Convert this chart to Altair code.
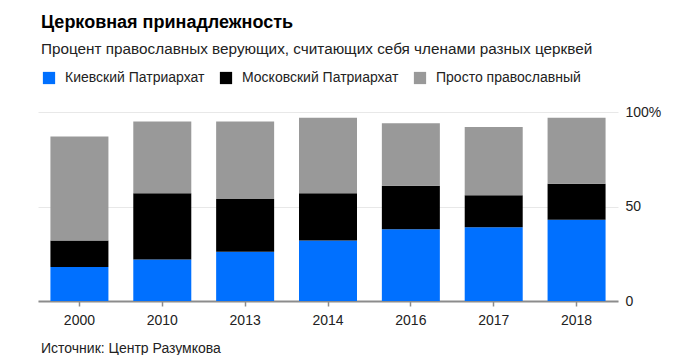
import altair as alt
import pandas as pd

years = ["2000", "2010", "2013", "2014", "2016", "2017", "2018"]
kyiv = [18, 22, 26, 32, 38, 39, 43]
moscow = [14, 35, 28, 25, 23, 17, 19]
simply = [55, 38, 41, 40, 33, 36, 35]
series = ["Киевский Патриархат", "Московский Патриархат", "Просто православный"]
colors = ["#0070ff", "#000000", "#999999"]
TITLE = "Церковная принадлежность"
SUBTITLE = "Процент православных верующих, считающих себя членами разных церквей"
SOURCE = "Источник: Центр Разумкова"

rows = []
for i, y in enumerate(years):
    for k, (name, vals) in enumerate(zip(series, [kyiv, moscow, simply])):
        rows.append({"year": y, "series": name, "value": vals[i], "ord": k})
df = pd.DataFrame(rows)

FONT = "Liberation Sans"

bars = alt.Chart(df).mark_bar().encode(
    x=alt.X(
        "year:N", sort=years, title=None,
        scale=alt.Scale(paddingInner=0.3, paddingOuter=0.15),
        axis=alt.Axis(labelAngle=0, domainColor="#8c8c8c", domainWidth=2,
                      tickColor="#8c8c8c", tickSize=5, tickWidth=1.5,
                      labelFontSize=14, labelPadding=7, labelColor="#222222",
                      grid=False, labelFont=FONT),
    ),
    y=alt.Y(
        "value:Q", stack="zero", title=None,
        scale=alt.Scale(domain=[0, 100], nice=False),
        axis=alt.Axis(orient="right", values=[0, 50, 100],
                      labelExpr="datum.value == 100 ? '100%' : datum.label",
                      domain=False, ticks=False, labelPadding=7, labelFontSize=14,
                      gridColor="#e8e8e8", labelColor="#222222", labelFont=FONT),
    ),
    color=alt.Color(
        "series:N",
        scale=alt.Scale(domain=series, range=colors),
        legend=alt.Legend(title=None, orient="none", legendX=4, legendY=-41,
                          direction="horizontal", symbolType="square",
                          symbolSize=150, labelFontSize=14, labelOffset=9,
                          columnPadding=14, symbolStrokeWidth=0,
                          labelFont=FONT, labelColor="#222222"),
    ),
    order=alt.Order("ord:Q", sort="ascending"),
)

title = alt.Chart(pd.DataFrame({"t": [TITLE]})).mark_text(
    align="left", baseline="alphabetic", fontSize=18, fontWeight="bold",
    font=FONT, color="#000000"
).encode(text="t:N", x=alt.value(3), y=alt.value(-84))

subtitle = alt.Chart(pd.DataFrame({"t": [SUBTITLE]})).mark_text(
    align="left", baseline="alphabetic", fontSize=15.3,
    font=FONT, color="#222222"
).encode(text="t:N", x=alt.value(3), y=alt.value(-58))

source = alt.Chart(pd.DataFrame({"t": [SOURCE]})).mark_text(
    align="left", baseline="alphabetic", fontSize=14,
    font=FONT, color="#222222"
).encode(text="t:N", x=alt.value(3), y=alt.value(241))

chart = alt.layer(bars, title, subtitle, source).properties(
    width=580, height=189,
    autosize=alt.AutoSizeParams(type="none"),
    padding={"left": 30, "top": 104, "right": 63, "bottom": 54},
).configure(font=FONT).configure_view(stroke=None)

chart.save("out.html", embed_options={"renderer": "svg", "actions": False})
